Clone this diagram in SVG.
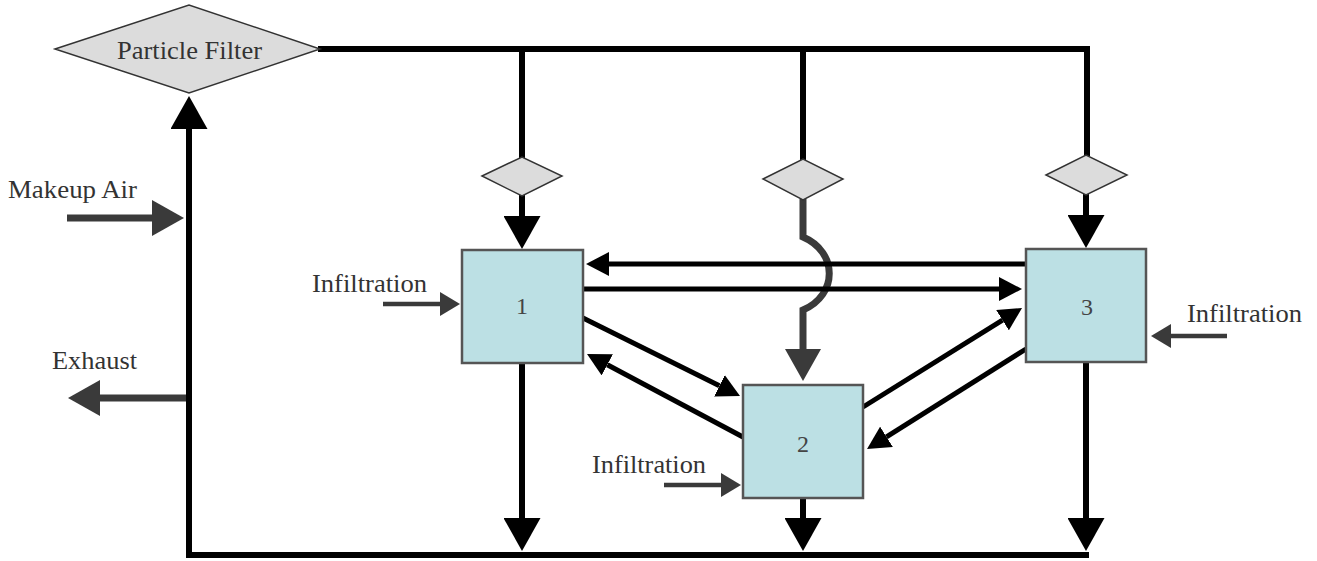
<svg xmlns="http://www.w3.org/2000/svg" width="1317" height="561" viewBox="0 0 1317 561">
<style>
.txt{font-family:"Liberation Serif","Times New Roman",serif;font-size:25px;fill:#333}
.num{font-family:"Liberation Serif","Times New Roman",serif;font-size:24px;fill:#444;text-anchor:middle}
.box{fill:#bce0e4;stroke:#555;stroke-width:2.5}
.dia{fill:#dcdcdc;stroke:#333;stroke-width:1.5}
.main{stroke:#000;stroke-width:6;fill:none}
.link{stroke:#000;stroke-width:5;fill:none}
.gray{stroke:#3a3a3a;stroke-width:7;fill:none}
.inf{stroke:#3a3a3a;stroke-width:4.5;fill:none}
</style>
<defs>
<marker id="big" markerUnits="userSpaceOnUse" markerWidth="34" markerHeight="37" refX="0" refY="18.5" orient="auto"><path d="M0,0 L33,18.5 L0,37 z" fill="#000"/></marker>
<marker id="small" markerUnits="userSpaceOnUse" markerWidth="24" markerHeight="24" refX="0" refY="12" orient="auto"><path d="M0,0 L23,12 L0,24 z" fill="#000"/></marker>
<marker id="grayBig" markerUnits="userSpaceOnUse" markerWidth="32" markerHeight="36" refX="0" refY="18" orient="auto"><path d="M0,0 L32,18 L0,36 z" fill="#3a3a3a"/></marker>
<marker id="graySmall" markerUnits="userSpaceOnUse" markerWidth="20" markerHeight="24" refX="0" refY="12" orient="auto"><path d="M0,0 L20,12 L0,24 z" fill="#3a3a3a"/></marker>
</defs>
<rect width="1317" height="561" fill="#fff"/>
<g id="connectors">
<!-- top header -->
<polyline class="main" points="318,49 1087,49 1087,156"/>
<line class="main" x1="522" y1="49" x2="522" y2="158"/>
<line class="main" x1="803" y1="49" x2="803" y2="160"/>
<!-- diamond to box arrows -->
<line class="main" x1="522" y1="195" x2="522" y2="216" marker-end="url(#big)"/>
<line class="main" x1="1086" y1="194" x2="1086" y2="215" marker-end="url(#big)"/>
<path class="gray" d="M803,199 L803,237 C838,252 838,295 803,310 L803,349" marker-end="url(#grayBig)"/>
<!-- box to return -->
<line class="main" x1="522" y1="363" x2="522" y2="518" marker-end="url(#big)"/>
<line class="main" x1="803" y1="498" x2="803" y2="518" marker-end="url(#big)"/>
<line class="main" x1="1086" y1="362" x2="1086" y2="518" marker-end="url(#big)"/>
<!-- return loop -->
<polyline class="main" points="1089,555 189,555 189,129" marker-end="url(#big)"/>
<!-- box links -->
<line class="link" x1="1026" y1="264" x2="609" y2="264" marker-end="url(#small)"/>
<line class="link" x1="583" y1="289" x2="999" y2="289" marker-end="url(#small)"/>
<line class="link" x1="583" y1="318" x2="719.4" y2="385.8" marker-end="url(#small)"/>
<line class="link" x1="743" y1="437" x2="607.3" y2="364.8" marker-end="url(#small)"/>
<line class="link" x1="863" y1="407" x2="1002.5" y2="320.2" marker-end="url(#small)"/>
<line class="link" x1="1026" y1="349" x2="886.5" y2="436.8" marker-end="url(#small)"/>
<!-- makeup / exhaust -->
<line class="gray" x1="67" y1="218" x2="152" y2="218" marker-end="url(#grayBig)"/>
<line class="gray" x1="186" y1="398" x2="100" y2="398" marker-end="url(#grayBig)"/>
<!-- infiltration -->
<line class="inf" x1="383" y1="304" x2="440" y2="304" marker-end="url(#graySmall)"/>
<line class="inf" x1="664" y1="485" x2="721" y2="485" marker-end="url(#graySmall)"/>
<line class="inf" x1="1227" y1="336" x2="1171" y2="336" marker-end="url(#graySmall)"/>
</g>
<g id="particle-filter">
<polygon class="dia" points="55,49 189,5 320,49 189,93"/>
<text class="txt" x="117" y="59" textLength="145" lengthAdjust="spacingAndGlyphs">Particle Filter</text>
</g>
<g id="valve-1"><polygon class="dia" points="482,176 522,157 562,176 522,196"/></g>
<g id="valve-2"><polygon class="dia" points="763,179 803,159 843,179 803,200"/></g>
<g id="valve-3"><polygon class="dia" points="1046,175 1086,155 1127,175 1086,195"/></g>
<g id="zone-1"><rect class="box" x="462" y="250" width="121" height="113"/><text class="num" x="522" y="314">1</text></g>
<g id="zone-2"><rect class="box" x="743" y="385" width="120" height="113"/><text class="num" x="803" y="452">2</text></g>
<g id="zone-3"><rect class="box" x="1026" y="249" width="120" height="113"/><text class="num" x="1087" y="315">3</text></g>
<g id="labels">
<text class="txt" x="8" y="198" textLength="129" lengthAdjust="spacingAndGlyphs">Makeup Air</text>
<text class="txt" x="52" y="369" textLength="85" lengthAdjust="spacingAndGlyphs">Exhaust</text>
<text class="txt" x="312" y="292" textLength="115" lengthAdjust="spacingAndGlyphs">Infiltration</text>
<text class="txt" x="592" y="473" textLength="114" lengthAdjust="spacingAndGlyphs">Infiltration</text>
<text class="txt" x="1187" y="322" textLength="115" lengthAdjust="spacingAndGlyphs">Infiltration</text>
</g>
</svg>
